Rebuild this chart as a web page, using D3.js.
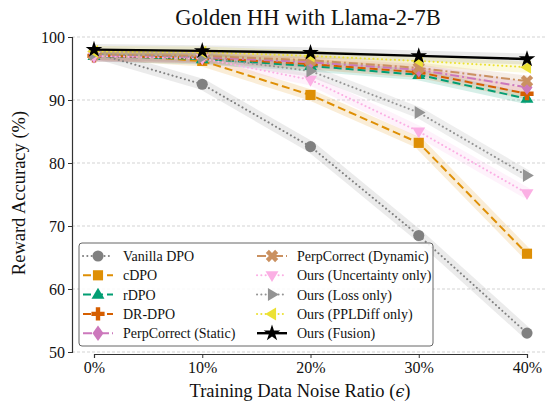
<!DOCTYPE html>
<html>
<head>
<meta charset="utf-8">
<script src="https://cdn.jsdelivr.net/npm/d3@7"></script>
<style>
  body { margin: 0; background: #fff; }
  text { font-family: "Liberation Serif", "DejaVu Serif", serif; fill: #111; }
</style>
</head>
<body>
<svg id="svg" width="546" height="405"></svg>
<script>
// noise ratios (%)
var noise = [0, 10, 20, 30, 40]
var xTicks = ["0%", "10%", "20%", "30%", "40%"]
var yTicks = [50, 60, 70, 80, 90, 100]

var names = ["Vanilla DPO", "cDPO", "rDPO", "DR-DPO", "PerpCorrect (Static)",
    "PerpCorrect (Dynamic)", "Ours (Uncertainty only)", "Ours (Loss only)",
    "Ours (PPLDiff only)", "Ours (Fusion)"]

var vanilla = [97.5, 92.5, 82.6, 68.5, 53.0]
var cdpo = [97.3, 96.2, 90.8, 83.2, 65.6]
var rdpo = [97.0, 96.5, 95.4, 94.0, 90.2]
var drdpo = [97.0, 96.7, 95.7, 94.4, 91.0]
var perpStatic = [97.0, 96.8, 96.0, 94.8, 92.0]
var perpDynamic = [97.2, 97.0, 96.3, 95.1, 93.0]
var oursUnc = [97.0, 96.6, 93.2, 85.0, 75.2]
var oursLoss = [97.3, 96.8, 94.6, 88.0, 78.0]
var oursPpl = [97.7, 97.6, 97.0, 96.2, 95.2]
var oursFusion = [98.0, 97.8, 97.5, 97.0, 96.5]

var seriesValues = [vanilla, cdpo, rdpo, drdpo, perpStatic, perpDynamic, oursUnc, oursLoss, oursPpl, oursFusion]

var styles = [
    { color: "#808080", dash: "0.1,4.2", marker: "circle" },
    { color: "#de8f05", dash: "8,4", marker: "square" },
    { color: "#029e73", dash: "8,4", marker: "triangle" },
    { color: "#d55e00", dash: "8,4", marker: "plus" },
    { color: "#cc78bc", dash: "9,3,2,3", marker: "diamond" },
    { color: "#ca9161", dash: "9,3,2,3", marker: "x" },
    { color: "#fbafe4", dash: "0.1,4.2", marker: "triangleDown" },
    { color: "#949494", dash: "0.1,4.2", marker: "triangleRight" },
    { color: "#ece133", dash: "0.1,4.2", marker: "triangleLeft" },
    { color: "#000000", dash: null, marker: "star" }
]

var svg = d3.select("#svg")

var x = d3.scaleLinear().domain([0, 40]).range([94, 527])
var y = d3.scaleLinear().domain([50, 100]).range([352, 37])

// grid
svg.append("g").selectAll("line")
    .data(yTicks)
    .enter().append("line")
    .attr("x1", 72).attr("x2", 546)
    .attr("y1", d => y(d)).attr("y2", d => y(d))
    .attr("stroke", "#c8c8c8").attr("stroke-width", 0.8)
    .attr("stroke-dasharray", "3,2")

// left axis
var yAxis = svg.append("g")
    .attr("transform", "translate(72,0)")
    .call(d3.axisLeft(y).tickValues(yTicks).tickSize(4).tickPadding(3))
yAxis.select(".domain").attr("stroke", "#333").attr("stroke-width", 1.2)
yAxis.selectAll(".tick line").attr("stroke", "#333")
yAxis.selectAll("text").attr("font-size", 16).attr("font-family", "Liberation Serif").attr("fill", "#111")

// bottom axis, trimmed
var xAxis = svg.append("g")
    .attr("transform", "translate(0,354)")
    .call(d3.axisBottom(x).tickValues(noise).tickFormat((d, i) => xTicks[i]).tickSize(4).tickPadding(4))
xAxis.select(".domain").attr("stroke", "#333").attr("stroke-width", 1.2)
xAxis.selectAll(".tick line").attr("stroke", "#333")
xAxis.selectAll("text").attr("font-size", 16).attr("font-family", "Liberation Serif").attr("fill", "#111")

// title & labels
svg.append("text").attr("x", 308).attr("y", 25).attr("text-anchor", "middle")
    .attr("font-size", 22.5).text("Golden HH with Llama-2-7B")
svg.append("text").attr("x", 300).attr("y", 397).attr("text-anchor", "middle")
    .attr("font-size", 18.5)
    .html('Training Data Noise Ratio (<tspan font-family="DejaVu Serif" font-style="italic" font-size="16">ϵ</tspan>)')
svg.append("text").attr("transform", "translate(25,193) rotate(-90)")
    .attr("text-anchor", "middle").attr("font-size", 18.5).text("Reward Accuracy (%)")

function markerPath(type, s) {
    switch (type) {
        case "circle": return d3.symbol(d3.symbolCircle, s * s * 0.8)()
        case "square": return d3.symbol(d3.symbolSquare, s * s * 0.85)()
        case "diamond": return "M0," + (-s * 0.7) + "L" + (s * 0.5) + ",0L0," + (s * 0.7) + "L" + (-s * 0.5) + ",0Z"
        case "plus": return d3.symbol(d3.symbolCross, s * s * 0.8)()
        case "x": return d3.symbol(d3.symbolCross, s * s * 0.8)()
        case "star": return d3.symbol(d3.symbolStar, s * s * 0.55)()
        default: {
            var r = s * 0.62
            var pts = [[0, -r], [r * 0.95, r * 0.6], [-r * 0.95, r * 0.6]]
            var ang = { triangle: 0, triangleDown: 180, triangleRight: 90, triangleLeft: -90 }[type]
            var a = ang * Math.PI / 180
            return "M" + pts.map(p => [p[0] * Math.cos(a) - p[1] * Math.sin(a), p[0] * Math.sin(a) + p[1] * Math.cos(a)].join(",")).join("L") + "Z"
        }
    }
}

function drawMarker(g, st, cx, cy, s) {
    var p = g.append("path")
        .attr("d", markerPath(st.marker, s))
        .attr("fill", st.color)
    if (st.marker === "x") p.attr("transform", "translate(" + cx + "," + cy + ") rotate(45)")
    else p.attr("transform", "translate(" + cx + "," + cy + ")")
}

var line = d3.line().x((d, i) => x(noise[i])).y(d => y(d))

// bands first
var bands = svg.append("g")
seriesValues.forEach(function (vals, k) {
    bands.append("path")
        .attr("d", line(vals))
        .attr("fill", "none")
        .attr("stroke", styles[k].color)
        .attr("stroke-opacity", k === 9 ? 0.08 : 0.16)
        .attr("stroke-width", 11)
        .attr("stroke-linejoin", "round")
})

var lines = svg.append("g")
seriesValues.forEach(function (vals, k) {
    var st = styles[k]
    lines.append("path")
        .attr("d", line(vals))
        .attr("fill", "none")
        .attr("stroke", st.color)
        .attr("stroke-width", k === 9 ? 2.4 : 2)
        .attr("stroke-dasharray", st.dash)
        .attr("stroke-linecap", st.dash && st.dash.startsWith("0.1") ? "round" : "butt")
    vals.forEach(function (v, i) {
        drawMarker(lines, st, x(noise[i]), y(v), k === 9 ? 12.5 : 11)
    })
})

// legend
var leg = svg.append("g")
leg.append("rect")
    .attr("x", 79).attr("y", 243).attr("width", 354).attr("height", 103)
    .attr("rx", 3).attr("fill", "#fff").attr("fill-opacity", 0.85)
    .attr("stroke", "#555").attr("stroke-width", 0.9)

names.forEach(function (name, k) {
    var col = Math.floor(k / 5), row = k % 5
    var lx = col === 0 ? 83 : 257
    var ly = 256 + row * 19.3
    var st = styles[k]
    leg.append("line")
        .attr("x1", lx).attr("x2", lx + 30).attr("y1", ly).attr("y2", ly)
        .attr("stroke", st.color).attr("stroke-width", k === 9 ? 2.4 : 2)
        .attr("stroke-dasharray", st.dash)
        .attr("stroke-linecap", st.dash && st.dash.startsWith("0.1") ? "round" : "butt")
    drawMarker(leg, st, lx + 15, ly, k === 9 ? 12.5 : 11)
    leg.append("text")
        .attr("x", col === 0 ? 123 : 297).attr("y", ly + 5)
        .attr("font-size", 14).text(name)
})
</script>
</body>
</html>
